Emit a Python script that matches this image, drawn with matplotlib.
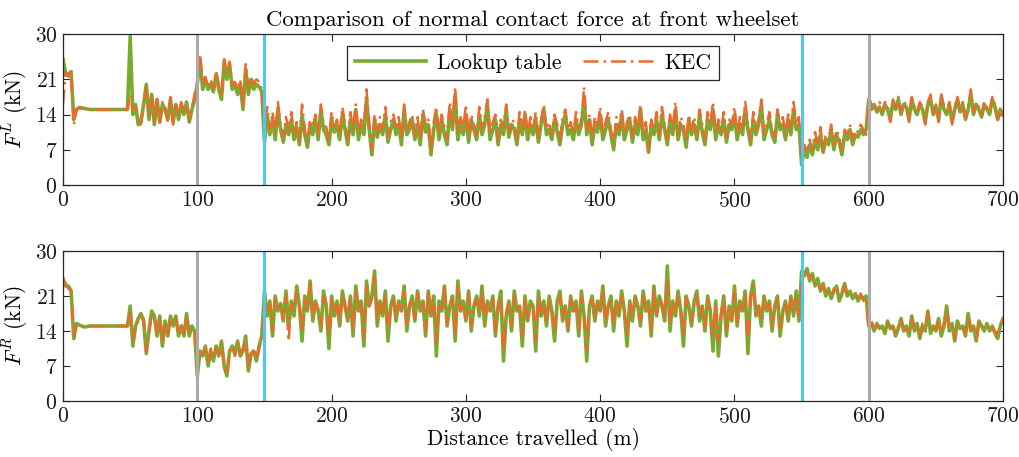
import numpy as np
import matplotlib
matplotlib.use("Agg")
import matplotlib.pyplot as plt

plt.rcParams['font.family'] = ['cmr10', 'DejaVu Serif']
plt.rcParams['mathtext.fontset'] = 'cm'
plt.rcParams['axes.formatter.use_mathtext'] = True

# ---------------- data (sampled every 2 m, 0..700 m) ----------------
distance = np.arange(0, 701, 2)

fl_lookup = [
    25, 22, 22, 22.5, 13, 15,
    15.4, 15.3, 15.2, 15.1, 15.0, 15.0, 15.0, 15.0, 15.0, 15.0, 15.0, 15.0, 15.0, 15.0, 15.0, 15.0, 15.0, 15.0, 15.0,
    29.5, 14, 16, 12, 12.5, 16, 20, 13, 18, 12, 17, 12.5, 16, 15, 13, 17, 12.5, 16, 13, 16, 14, 16.5, 12.5, 15, 17,
    20, 25, 19, 21, 19, 20, 18.5, 22, 19, 17, 24.5, 21, 24, 19, 20, 18, 20, 15, 23, 18, 21, 19, 20, 19.5, 18.5,
    8.5, 14, 10, 13, 9, 15, 11, 8.5, 12, 10,
    13, 9, 11.5, 8, 14, 10, 7.5, 12, 10, 13,
    9, 15, 11, 10, 8, 13, 10.5, 12, 9, 14,
    11, 8, 13, 10, 15, 9, 12, 10, 17, 11,
    6, 13, 9.5, 12, 10, 14, 8.5, 11, 13, 10,
    12, 8, 15, 10, 11, 13, 9, 12, 8, 14,
    10.5, 12, 6, 11, 14, 9, 13, 10, 8, 15,
    11, 18, 9, 12, 10, 14, 8.5, 13, 11, 9,
    14, 10, 12, 16, 9, 11, 13, 8, 12, 10,
    15, 9.5, 12, 11, 8, 13, 10, 14, 9, 12,
    10, 13, 8.5, 12, 15, 10, 11, 9, 13, 10.5,
    8, 12, 14, 10, 11, 9, 13, 10, 12, 17,
    10, 13, 8, 12, 10.5, 14, 9, 11, 13, 10,
    7, 12, 10, 14, 9, 11, 13, 8.5, 12, 10,
    15, 9, 11, 6.5, 12, 10, 13, 9, 14, 11,
    8, 13, 10, 15, 9, 12, 11, 7.5, 13, 10,
    12, 9, 14, 10.5, 8, 13, 11, 15, 9, 12,
    10, 13, 8.5, 12, 11, 14, 9, 12, 10, 15,
    11, 8, 13, 10, 12, 16, 9, 11, 13, 10,
    8.5, 14, 11, 12, 9, 13, 10, 15, 11, 12,
    4, 7, 5.5, 8, 6, 9, 7, 10, 6.5, 9, 8, 11, 7, 10, 8.5, 6, 10, 9, 11, 8, 10, 9.5, 11, 10, 11,
    17, 15, 16, 14.5, 15.5, 14, 16, 15, 13, 16.5, 15, 17, 14, 16, 15.5, 13, 17, 15, 14, 16,
    15, 12.5, 16, 17, 14, 15.5, 13, 17.5, 15, 14, 16, 12.5, 15, 17, 14.5, 16, 13, 15, 18, 14,
    16, 15, 13.5, 16, 15, 14, 17, 15.5, 13, 15, 14,
]

fl_kec = [
    16, 22.5, 21.5, 23, 12, 15,
    15.3, 15.2, 15.1, 15.0, 15.0, 15.0, 15.0, 15.0, 15.0, 15.0, 15.0, 15.0, 15.0, 15.0, 15.0, 15.0, 15.0, 15.0, 15.0,
    18, 15, 15.5, 13, 12, 16.5, 19.5, 14, 17.5, 12.5, 17.5, 12, 16.5, 15.5, 12.5, 17.5, 12, 16, 13.5, 16.5, 14.5, 16, 13, 15.5, 18,
    21, 26, 20, 21.5, 19.5, 21, 19, 22.5, 20, 17.5, 25, 22, 24.5, 20, 20.5, 19, 21, 15.5, 24, 19, 21.5, 20, 21, 20.5, 19,
    10, 15.5, 11, 14.5, 10, 16.5, 12, 9.5, 13.5, 11,
    14.5, 10, 12.5, 9, 16, 11, 8.5, 13, 11.5, 14,
    10, 16, 12, 11.5, 9, 14.5, 11.5, 13, 10, 15.5,
    12, 9, 14.5, 11, 16, 10, 13, 11.5, 19, 12,
    7, 14, 10.5, 13.5, 11, 15.5, 9.5, 12.5, 14, 11,
    13.5, 9, 16, 11, 12.5, 14, 10, 13.5, 9, 15,
    12, 13, 6.5, 12.5, 15.5, 10, 14, 11.5, 9, 16.5,
    12, 19.5, 10, 13.5, 11, 16, 9.5, 14, 12, 10,
    15.5, 11, 13.5, 17, 10, 12.5, 14, 9, 13, 11.5,
    16, 10.5, 13, 12.5, 9, 14.5, 11, 15, 10, 13.5,
    11, 14.5, 9.5, 13, 16, 11, 12.5, 10, 14, 12,
    9, 13.5, 15, 11, 12.5, 10, 14.5, 11, 13, 19.5,
    11, 14, 9, 13.5, 11.5, 15.5, 10, 12.5, 14.5, 11,
    8, 13.5, 11, 15, 10, 12.5, 14, 9.5, 13.5, 11,
    16, 10, 12.5, 7, 13, 11, 14.5, 10, 15.5, 12,
    9, 14, 11, 16.5, 10, 13.5, 12, 8.5, 14, 11,
    13.5, 10, 15, 12, 9, 14.5, 12, 16.5, 10, 13,
    11, 14.5, 9.5, 13, 12, 15.5, 10, 13.5, 11, 16.5,
    12, 9, 14.5, 11, 13, 17, 10, 12, 14.5, 11,
    9.5, 15, 12, 13.5, 10, 14, 11, 16.5, 12, 13.5,
    5, 8, 6.5, 9, 7, 10.5, 8, 11.5, 7, 10, 9, 12, 8, 11, 9.5, 7, 11, 10, 12, 9, 11, 10.5, 12, 11, 10,
    17.5, 16, 15.5, 15, 16.5, 14.5, 16.5, 16, 12.5, 17, 15.5, 17.5, 14.5, 16.5, 16, 12.5, 17.5, 15.5, 14.5, 16.5,
    15.5, 12, 16.5, 18, 14, 16, 12.5, 18, 15.5, 14.5, 16.5, 12, 15.5, 17.5, 15, 16.5, 13.5, 15.5, 19, 14.5,
    16.5, 15.5, 14, 16.5, 15.5, 14.5, 17.5, 16, 13, 15.5, 13.5,
]

fr_lookup = [
    24.5, 23, 23, 22, 12.5, 15.5,
    15.2, 15.0, 14.8, 14.9, 15.0, 15.0, 15.0, 15.0, 15.0, 15.0, 15.0, 15.0, 15.0, 15.0, 15.0, 15.0, 15.0, 15.0, 15.0,
    19, 11, 15, 16.5, 17.5, 16, 9.5, 14, 18, 17, 13, 17, 11, 16, 13, 17, 15, 17, 13, 15, 13, 17.5, 13, 15, 14,
    5, 10, 9, 11, 7, 10, 8, 11, 9, 12, 7, 5, 10, 11, 9.5, 12, 9, 10, 13, 6, 9.5, 10, 8, 11, 13,
    22, 17, 20, 13, 21, 18, 19.5, 16, 22, 15,
    20, 17, 23, 19, 12, 21, 18, 24, 16, 20,
    18, 14, 22, 19, 10.5, 21, 17, 20, 15, 22,
    19, 16, 21, 13, 23, 18, 20, 11, 24, 19,
    21, 26, 15, 20, 17, 22, 12, 19, 21, 16,
    20, 18, 23, 14, 19, 21, 16, 22, 18, 20,
    13, 22, 17, 21, 9, 20, 18, 23, 15, 19,
    21, 12, 24, 18, 20, 16, 22, 14, 19, 21,
    17, 23, 15, 20, 18, 21, 13, 19, 22, 8,
    17, 20, 14, 22, 18, 19, 11, 21, 16, 20,
    19, 10, 22, 17, 20, 15, 21, 18, 12, 20,
    22, 16, 19, 14, 21, 18, 20, 13, 22, 17,
    8, 19, 21, 16, 20, 18, 23, 15, 19, 21,
    14, 20, 17, 22, 18, 11, 20, 16, 21, 19,
    15, 22, 18, 20, 13, 23, 17, 21, 19, 16,
    27, 14, 20, 17, 22, 18, 11, 21, 19, 15,
    20, 22, 16, 19, 14, 21, 18, 10, 20, 9,
    17, 21, 13, 19, 16, 23, 15, 20, 18, 22,
    9.5, 21, 24, 17, 19, 15, 21, 18, 20, 14,
    19, 21, 13, 18, 20, 16, 21, 17, 22, 16,
    26, 25, 26.5, 24, 25.5, 23, 24.5, 22, 23.5, 21, 22.5, 20.5, 22, 23, 20, 21.5, 23.5, 21, 22, 20.5, 21.5, 20, 21, 20.5, 21,
    15, 15.5, 14, 15.5, 14.5, 15, 13.5, 16, 14.5, 15, 13, 14.5, 16.5, 14, 15, 13, 17, 14, 15.5, 12.5,
    15, 14, 18, 13.5, 15, 14, 16.5, 13, 15, 19, 14, 15.5, 12, 16, 14.5, 15, 13, 17.5, 14, 15,
    12, 16, 15, 14, 15.5, 14, 15, 13.5, 12.5, 15, 16.5,
]

fr_kec = [
    24, 23.5, 22.5, 22, 13, 15.3,
    15.1, 15.0, 14.9, 14.9, 15.0, 15.0, 15.0, 15.0, 15.0, 15.0, 15.0, 15.0, 15.0, 15.0, 15.0, 15.0, 15.0, 15.0, 15.0,
    18, 12, 14.5, 16, 17, 16.5, 10, 13.5, 17.5, 17, 13.5, 16.5, 11.5, 15.5, 13.5, 16.5, 15.5, 16.5, 13.5, 15.5, 13.5, 17, 13.5, 14.5, 14,
    6, 9.5, 9.5, 10.5, 7.5, 10.5, 8.5, 10.5, 9.5, 11.5, 7.5, 5.5, 9.5, 11, 9, 11.5, 9.5, 10.5, 12.5, 6.5, 9, 10.5, 8.5, 10.5, 12.5,
    21, 17.5, 19.5, 14, 20.5, 18.5, 19, 16.5, 21, 12,
    19.5, 17.5, 22, 19.5, 14, 20.5, 18.5, 23.5, 16.5, 19.5,
    18.5, 15, 21, 19.5, 13, 20.5, 17.5, 19.5, 15.5, 21.5,
    19, 16.5, 20.5, 14, 22, 18, 19.5, 12.5, 23, 19,
    20.5, 25, 16, 19.5, 17.5, 21, 14, 19, 20.5, 16.5,
    19.5, 18, 22, 15, 19, 20.5, 16.5, 21.5, 18, 19.5,
    14, 21.5, 17.5, 20.5, 11.5, 19.5, 18, 22.5, 15.5, 19,
    20.5, 13, 23, 18, 19.5, 16.5, 21.5, 15, 19, 20.5,
    17.5, 22, 16, 19.5, 18, 20.5, 14, 19, 21, 10,
    17.5, 19.5, 15, 21, 18, 19, 13, 20.5, 16.5, 19.5,
    19, 12, 21, 17.5, 19.5, 15.5, 20.5, 18, 13.5, 19.5,
    21, 16.5, 19, 15, 20.5, 18, 19.5, 14, 21, 17,
    10, 19, 20.5, 16.5, 19.5, 18, 22, 15.5, 19, 20.5,
    15, 19.5, 17.5, 21, 18, 13, 19.5, 16.5, 20.5, 19,
    16, 21, 18, 19.5, 14, 22, 17.5, 20.5, 19, 16.5,
    24, 15, 19.5, 17.5, 21, 18, 13, 20.5, 19, 16,
    19.5, 21, 16.5, 19, 15, 20.5, 18, 12.5, 19.5, 12,
    17.5, 20.5, 14, 19, 16.5, 22, 15.5, 19.5, 18, 21,
    12, 20.5, 23, 17.5, 19, 16, 20.5, 18, 19.5, 15,
    19, 20.5, 14.5, 18, 19.5, 16.5, 20.5, 17.5, 21, 17,
    25.5, 26, 25.5, 24.5, 25, 23.5, 24, 22.5, 23, 21.5, 22, 21, 22.5, 22.5, 20.5, 21, 23, 21.5, 21.5, 21, 21, 20.5, 21.5, 20, 20.5,
    14.5, 16, 14.5, 15, 15, 14.5, 14, 15.5, 15, 14.5, 13.5, 15, 16, 14.5, 14.5, 13.5, 16.5, 14.5, 15, 13,
    15.5, 14.5, 17.5, 14, 14.5, 14.5, 16, 13.5, 15.5, 18.5, 14.5, 15, 12.5, 15.5, 15, 14.5, 13.5, 17, 14.5, 14.5,
    12, 15.5, 15.5, 14.5, 15, 14.5, 14.5, 14, 13, 15.5, 16,
]

gray_marks = [100, 600]
blue_marks = [150, 550]
y_ticks = [0, 7, 14, 21, 30]
x_ticks = [0, 100, 200, 300, 400, 500, 600, 700]
title = "Comparison of normal contact force at front wheelset"
ylabels = [r"$F^L$ (kN)", r"$F^R$ (kN)"]
xlabel = "Distance travelled (m)"
legend_labels = ["Lookup table", "KEC"]

for arr in (fl_lookup, fl_kec, fr_lookup, fr_kec):
    assert len(arr) == len(distance), len(arr)

# ---------------- plotting ----------------
green = "#77AC30"
orange = "#EC6A2C"
gray = "#ABABAB"
blue = "#4DC8F5"

fig = plt.figure(figsize=(10.2, 4.57), dpi=100)
ax1 = fig.add_axes([0.0618, 0.5952, 0.9216, 0.3304])
ax2 = fig.add_axes([0.0618, 0.1225, 0.9216, 0.3282])

for ax, lk, kec, yl in ((ax1, fl_lookup, fl_kec, ylabels[0]),
                        (ax2, fr_lookup, fr_kec, ylabels[1])):
    l1, = ax.plot(distance, lk, color=green, lw=2.6, zorder=2, label=legend_labels[0])
    l2, = ax.plot(distance, kec, color=orange, lw=1.8, ls=(0, (6, 2, 1, 2)), zorder=3,
                  label=legend_labels[1])
    for xv in gray_marks:
        ax.axvline(xv, color=gray, lw=2.2, zorder=4)
    for xv in blue_marks:
        ax.axvline(xv, color=blue, lw=2.2, zorder=4)
    ax.set_xlim(0, 700)
    ax.set_ylim(0, 30)
    ax.set_xticks(x_ticks)
    ax.set_yticks(y_ticks)
    ax.tick_params(direction='in', top=True, right=True, labelsize=15.5, length=5,
                   width=0.8, colors='#262626', labelcolor='#1a1a1a', pad=4)
    for sp in ax.spines.values():
        sp.set_color('#262626')
        sp.set_linewidth(0.9)
        sp.set_zorder(5)
    ax.set_ylabel(yl, fontsize=15.5, labelpad=3)

ax1.set_title(title, fontsize=16.4, pad=6)
ax2.set_xlabel(xlabel, fontsize=15.5, labelpad=1)
leg = ax1.legend(loc='upper center', ncol=2, fontsize=15.5, frameon=True, fancybox=False,
                 edgecolor='#262626', framealpha=1, handlelength=3.3, columnspacing=1.0,
                 borderaxespad=0.55, handletextpad=0.5, borderpad=0.35)
leg.get_frame().set_linewidth(0.9)
leg.set_zorder(6)

fig.savefig("out.png", dpi=100)
